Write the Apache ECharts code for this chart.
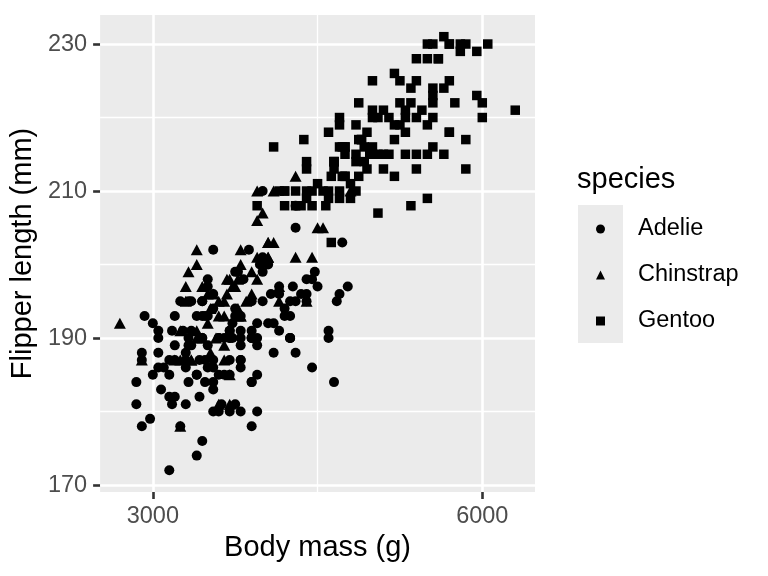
<!DOCTYPE html>
<html lang="en">
<head>
    <meta charset="utf-8">
    <title>Penguins: body mass vs flipper length</title>
    <script src="https://cdn.jsdelivr.net/npm/echarts@6/dist/echarts.min.js"></script>
    <style>
        body { margin: 0; background: #fff; }
        #main { width: 768px; height: 576px; }
    </style>
</head>
<body>
<div id="main"></div>

<script type="text/javascript">
    // body mass (g) and flipper length (mm), one pair of arrays per species
    var adelieMass = [3750,3800,3250,3450,3650,3625,4675,3475,4250,3300,3700,3200,3800,4400,3700,3450,4500,3325,4200,
        3400,3600,3800,3950,3800,3800,3550,3200,3150,3950,
        3250,3900,3300,3900,3325,4150,3950,3550,3300,4650,3150,3900,3100,4400,3000,4600,3425,2975,3450,4150,
        3500,4300,3450,4050,2900,3700,3550,3800,2850,3750,3150,4400,3600,4050,2850,3950,3350,4100,
        3050,4450,3600,3900,3550,4150,3700,4250,3700,3900,3550,4000,3200,4700,3800,4200,
        3350,3550,3800,3500,3950,3600,3550,4300,3400,4450,3300,4300,3700,4350,2900,4100,
        3725,4725,3075,4250,2925,3550,3750,3900,3175,4775,3825,4600,3200,4275,3900,4075,
        2900,3775,3350,3325,3150,3500,3450,3875,3050,4000,3275,4300,3050,4000,3325,3500,
        3500,4475,3425,3900,3175,3975,3400,4250,3400,3475,3050,3725,3000,3650,4250,3475,3450,3750,3700,4000];
    var adelieFlipper = [181,186,195,193,190,181,195,193,190,186,180,182,191,198,185,195,197,184,194,
        174,180,189,185,180,187,183,187,172,180,
        178,178,188,184,195,196,190,180,181,184,182,195,186,196,185,190,182,179,190,191,
        186,188,190,200,187,191,186,193,181,194,185,195,185,192,184,192,195,188,
        190,198,190,190,196,197,190,195,191,184,187,195,189,196,187,193,
        191,194,190,189,189,190,202,205,185,186,187,208,190,196,178,192,
        192,203,183,190,193,184,199,190,181,197,198,191,193,197,191,196,
        188,199,189,189,187,198,176,202,186,199,191,195,191,210,190,197,
        193,199,187,190,191,200,185,193,193,187,188,190,192,185,190,184,195,193,187,201];

    var gentooMass = [4500,5700,4450,5700,5400,4550,4800,5200,4400,5150,4650,5550,4650,5850,4200,5850,4150,6300,4800,5350,
        5700,5000,4400,5050,5000,5100,4100,5650,4600,5550,5250,4700,5050,6050,5150,5400,4950,5250,4350,5350,
        3950,5700,4300,4750,5550,4900,4200,5400,5100,5300,4850,5300,4400,5000,4900,5050,4300,5000,4450,5550,
        4200,5300,4400,5650,4700,5700,4650,5800,4700,5550,4750,5000,5100,5200,4700,5800,4600,6000,4750,5950,
        4625,5450,4725,5350,4750,5600,4600,5300,4875,5550,4950,5400,4750,5650,4850,5200,4925,4875,4625,5250,
        4850,5600,4975,5500,4725,5500,4700,5500,4575,5500,5000,5950,4650,5500,4375,5850,4875,6000,4925,
        4850,5750,5200,5400];
    var gentooFlipper = [211,230,210,218,215,210,211,219,209,215,214,216,214,213,210,217,210,221,209,222,
        218,215,213,215,215,215,216,215,210,220,222,209,207,230,220,220,213,219,208,208,
        208,225,210,216,222,217,210,225,213,215,210,220,210,225,217,220,208,220,208,224,
        208,221,214,231,219,230,214,229,220,223,216,221,221,217,216,230,209,220,215,223,
        212,221,212,224,212,228,218,218,212,230,218,228,212,224,214,226,216,222,203,225,
        219,228,215,228,216,215,210,219,208,209,216,229,213,230,217,230,217,222,214,
        215,222,212,213];

    var chinstrapMass = [3500,3900,3650,3525,3725,3950,3250,3750,4150,3700,3800,3775,3700,4050,3575,4050,3300,3700,3450,4400,
        3600,3400,2900,3800,3300,4150,3400,3800,3700,4550,3200,4300,3350,4100,3600,3900,3850,4800,2700,4500,
        3950,3650,3550,3500,3675,4450,3400,4300,3250,3675,3325,3950,3600,4050,3350,3450,3250,4050,3800,3525,
        3950,3650,3650,4000,3400,3775,4100,3775];
    var chinstrapFlipper = [192,196,193,188,197,198,178,197,195,198,193,194,185,201,190,201,197,181,190,195,
        181,191,187,193,195,197,200,200,191,205,187,201,187,203,195,199,195,210,192,205,
        210,187,196,196,196,201,190,212,187,198,199,201,193,203,187,197,191,203,202,194,
        206,189,195,207,202,193,210,198];

    var speciesNames = ['Adelie', 'Chinstrap', 'Gentoo'];

    // ticks and grid lines
    var xTicks = [3000, 6000];
    var xMinor = [4500];
    var yTicks = [170, 190, 210, 230];
    var yMinor = [180, 200, 220];

    var FONT = '"Liberation Sans", Arial, Helvetica, sans-serif';

    function pairs(xs, ys) {
        var out = [];
        for (var i = 0; i < xs.length; i++) {
            out.push([xs[i], ys[i]]);
        }
        return out;
    }

    function gridLines() {
        var lines = [];
        xTicks.forEach(function (v) { lines.push({xAxis: v, lineStyle: {color: '#fff', width: 2.6, type: 'solid'}}); });
        xMinor.forEach(function (v) { lines.push({xAxis: v, lineStyle: {color: '#fff', width: 1.3, type: 'solid'}}); });
        yTicks.forEach(function (v) { lines.push({yAxis: v, lineStyle: {color: '#fff', width: 2.6, type: 'solid'}}); });
        yMinor.forEach(function (v) { lines.push({yAxis: v, lineStyle: {color: '#fff', width: 1.3, type: 'solid'}}); });
        return lines;
    }

    var myChart = echarts.init(document.getElementById('main'), null, {renderer: 'canvas'});

    myChart.setOption({
        animation: false,
        textStyle: {fontFamily: FONT},
        title: {
            text: 'species',
            left: 577,
            top: 165,
            padding: 0,
            textStyle: {fontSize: 29, fontWeight: 'normal', color: '#000', fontFamily: FONT}
        },
        legend: {
            data: speciesNames,
            orient: 'vertical',
            left: 596,
            top: 206,
            padding: 0,
            itemGap: 0,
            itemWidth: 9,
            itemHeight: 9,
            selectedMode: false,
            textStyle: {fontSize: 23.5, color: '#000', lineHeight: 46, padding: [0, 0, 0, 28], fontFamily: FONT}
        },
        graphic: [{
            // grey background behind the legend keys
            type: 'rect',
            left: 578,
            top: 205,
            z: -1,
            shape: {width: 45, height: 138},
            style: {fill: '#EBEBEB'}
        }],
        grid: {
            left: 100,
            top: 15,
            width: 435,
            height: 477,
            show: true,
            backgroundColor: '#EBEBEB',
            borderWidth: 0
        },
        xAxis: {
            type: 'value',
            min: 2520,
            max: 6480,
            name: 'Body mass (g)',
            nameLocation: 'middle',
            nameGap: 39,
            nameTextStyle: {fontSize: 29, color: '#000', fontFamily: FONT},
            axisLine: {show: false},
            splitLine: {show: false},
            axisTick: {show: true, customValues: xTicks, length: 7, lineStyle: {color: '#333', width: 2.6}},
            axisLabel: {
                customValues: xTicks,
                color: '#4D4D4D',
                fontSize: 23.5,
                margin: 13,
                fontFamily: FONT,
                formatter: function (v) { return String(v); }
            }
        },
        yAxis: {
            type: 'value',
            min: 169.05,
            max: 233.95,
            name: 'Flipper length (mm)',
            nameLocation: 'middle',
            nameRotate: 90,
            nameGap: 54,
            nameTextStyle: {fontSize: 29, color: '#000', fontFamily: FONT},
            axisLine: {show: false},
            splitLine: {show: false},
            axisTick: {show: true, customValues: yTicks, length: 7, lineStyle: {color: '#333', width: 2.6}},
            axisLabel: {customValues: yTicks, color: '#4D4D4D', fontSize: 23.5, margin: 13, fontFamily: FONT}
        },
        series: [
            {
                // only carries the panel grid lines
                name: 'gridlines',
                type: 'scatter',
                data: [],
                z: 1,
                silent: true,
                markLine: {
                    z: 1,
                    silent: true,
                    symbol: ['none', 'none'],
                    label: {show: false},
                    emphasis: {disabled: true},
                    data: gridLines()
                }
            },
            {
                name: 'Adelie',
                type: 'scatter',
                symbol: 'circle',
                symbolSize: 10,
                z: 3,
                itemStyle: {color: '#000', opacity: 1},
                data: pairs(adelieMass, adelieFlipper)
            },
            {
                name: 'Gentoo',
                type: 'scatter',
                symbol: 'rect',
                symbolSize: 9.5,
                z: 3,
                itemStyle: {color: '#000', opacity: 1},
                data: pairs(gentooMass, gentooFlipper)
            },
            {
                name: 'Chinstrap',
                type: 'scatter',
                symbol: 'triangle',
                symbolSize: [12, 11],
                z: 3,
                itemStyle: {color: '#000', opacity: 1},
                data: pairs(chinstrapMass, chinstrapFlipper)
            }
        ]
    });
</script>
</body>
</html>
